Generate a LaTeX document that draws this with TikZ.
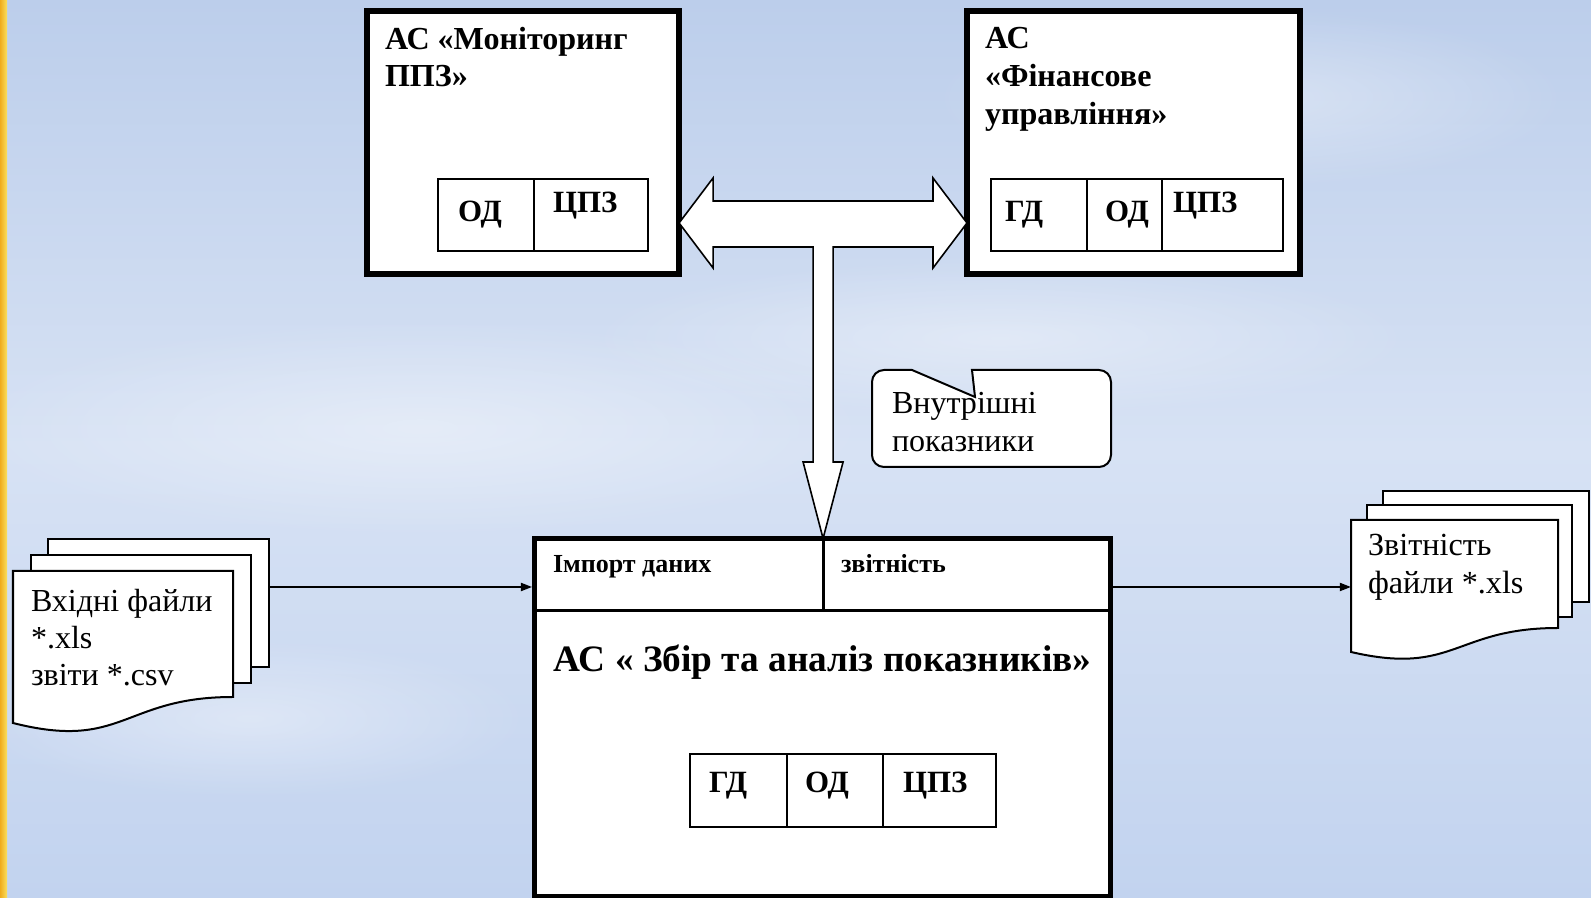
\documentclass[tikz,border=0pt]{standalone}
\usepackage{fontspec}
\setmainfont{Liberation Serif}
\usetikzlibrary{positioning,arrows.meta,calc,fadings}

\definecolor{skytop}{RGB}{188,206,235}
\definecolor{skymid}{RGB}{215,226,244}
\definecolor{skybot}{RGB}{194,211,239}
\definecolor{stripeA}{RGB}{240,172,28}
\definecolor{stripeB}{RGB}{250,224,96}

\tikzfading[name=softcloud, inner color=transparent!40, outer color=transparent!100]

\begin{document}
\begin{tikzpicture}[
    x=0.025cm, y=0.025cm,
    every node/.style={inner sep=0pt, outer sep=0pt},
    sysbox/.style={draw, fill=white, line width=0.15cm, anchor=north west},
    cell/.style={draw, line width=0.05cm, minimum height=1.8cm, anchor=south west},
    hdr/.style={draw, line width=0.075cm, minimum height=1.7875cm},
    title/.style={font=\fontsize{22.8}{26.6}\selectfont\bfseries, align=left, anchor=base west},
    ctext/.style={font=\fontsize{22}{25}\selectfont\bfseries, anchor=base west},
    htext/.style={font=\fontsize{18.5}{20}\selectfont\bfseries, anchor=base west},
    plain/.style={font=\fontsize{22.8}{26.6}\selectfont, align=left, anchor=base west},
    sheet/.style={draw, fill=white, line width=0.05cm, line join=miter},
    tee/.style={draw, fill=white, line width=0.04cm, line join=miter},
    flow/.style={-{Triangle[length=0.28cm,width=0.2cm]}, line width=0.05cm},
    cloud/.style={fill=white, opacity=0.6, path fading=softcloud}
    ]
    \useasboundingbox (0,0) rectangle (1591,898);
    % fon
    \shade[top color=skytop, bottom color=skybot, middle color=skymid] (0,0) rectangle (1591,898);
    \fill[cloud] (420,470) ellipse [x radius=460, y radius=110];
    \fill[cloud] (1250,800) ellipse [x radius=320, y radius=90];
    \fill[cloud] (1000,560) ellipse [x radius=420, y radius=80];
    \fill[cloud] (250,180) ellipse [x radius=280, y radius=80];
    \shade[left color=stripeA, right color=stripeB] (0,0) rectangle (7,898);

    % systemy
    \node[sysbox, minimum width=7.8cm, minimum height=6.575cm] (mon) at (367,887) {};
    \node[sysbox, minimum width=8.325cm, minimum height=6.575cm] (fin) at (967,887) {};
    \node[sysbox, line width=0.125cm, minimum width=14.4cm, minimum height=8.9375cm] (zbir) at (534.5,359.5) {};

    \node[title] (monT) at (385,811) {АС «Моніторинг\\ППЗ»};
    \node[title, font=\fontsize{22.8}{27.2}\selectfont\bfseries] (finT) at (985,773) {АС\\«Фінансове\\управління»};

    % komirky
    \node[cell, minimum width=2.4cm] (mOD) at (438,647) {};
    \node[cell, minimum width=2.85cm, right=0pt of mOD] (mCPZ) {};
    \node[cell, minimum width=2.4cm] (fGD) at (991,647) {};
    \node[cell, minimum width=1.875cm, right=0pt of fGD] (fOD) {};
    \node[cell, minimum width=3.025cm, right=0pt of fOD] (fCPZ) {};
    \node[cell, minimum width=2.425cm, minimum height=1.825cm] (zGD) at (690,71) {};
    \node[cell, minimum width=2.4cm, minimum height=1.825cm, right=0pt of zGD] (zOD) {};
    \node[cell, minimum width=2.825cm, minimum height=1.825cm, right=0pt of zOD] (zCPZ) {};

    \node[ctext] (mODt) at (458,676) {ОД};
    \node[ctext] (mCPZt) at (553,685) {ЦПЗ};
    \node[ctext] (fGDt) at (1005,676) {ГД};
    \node[ctext] (fODt) at (1105,676) {ОД};
    \node[ctext] (fCPZt) at (1173,685) {ЦПЗ};
    \node[ctext] (zGDt) at (709,105) {ГД};
    \node[ctext] (zODt) at (805,105) {ОД};
    \node[ctext] (zCPZt) at (903,105) {ЦПЗ};

    % shapka
    \node[hdr, minimum width=7.2125cm, anchor=north west] (imp) at (zbir.north west) {};
    \node[hdr, minimum width=7.1875cm, right=0pt of imp] (zvit) {};
    \node[htext] (impT) at (553,325) {Імпорт даних};
    \node[htext] (zvitT) at (841,325) {звітність};
    \node[font=\fontsize{26.5}{30}\selectfont\bfseries, anchor=base] (zbirT) at (822.5,226) {АС « Збір та аналіз показників»};

    % strilka
    \coordinate (tl) at (mon.east |- 0,675);
    \coordinate (tr) at (fin.west |- 0,675);
    \coordinate (tb) at (imp.north east);
    \draw[tee] (tl) -- ++(34,45) -- ++(0,-23) -- ($(tr)+(-34,22)$) -- ++(0,23) -- (tr)
      -- ++(-34,-45) -- ++(0,21) -- ($(tb)+(10,291.5)$) -- ($(tb)+(10,76.5)$) -- ($(tb)+(20,76.5)$)
      -- (tb) -- ($(tb)+(-20,76.5)$) -- ($(tb)+(-10,76.5)$) -- ($(tb)+(-10,291.5)$)
      -- ($(tl)+(34,-24)$) -- ++(0,-21) -- cycle;

    % vynoska
    \draw[sheet] (972,528) -- (1099,528) arc[start angle=90, end angle=0, radius=0.3cm]
      -- (1111,443) arc[start angle=0, end angle=-90, radius=0.3cm]
      -- (884,431) arc[start angle=-90, end angle=-180, radius=0.3cm]
      -- (872,516) arc[start angle=180, end angle=90, radius=0.3cm]
      -- (912,528) -- (975,501) -- cycle;
    \node[plain, font=\fontsize{22.8}{27.6}\selectfont] (vnT) at (892,446) {Внутрішні\\показники};

    % fajly
    \draw[sheet] (48,231) rectangle (269,359);
    \draw[sheet] (31,215) rectangle (251,343);
    \draw[sheet] (13,327) -- (233,327) -- (233,201) .. controls (123,201) and (123,147) .. (13,175) -- cycle;
    \node[plain] (inT) at (31,212) {Вхідні файли\\*.xls\\звіти *.csv};

    \draw[sheet] (1383,296) rectangle (1589,407);
    \draw[sheet] (1367,281) rectangle (1572,393);
    \draw[sheet] (1351,378) -- (1558,378) -- (1558,270) .. controls (1454.5,270) and (1454.5,222) .. (1351,246) -- cycle;
    \node[plain, font=\fontsize{22.9}{27.6}\selectfont] (outT) at (1368,304) {Звітність\\файли *.xls};

    \coordinate (inL) at (269,311);
    \coordinate (outR) at (1351,311);
    \draw[flow, shorten >=0.06cm] (inL) -- (inL -| zbir.west);
    \draw[flow] (zbir.east |- outR) -- (outR);
\end{tikzpicture}
\end{document}
